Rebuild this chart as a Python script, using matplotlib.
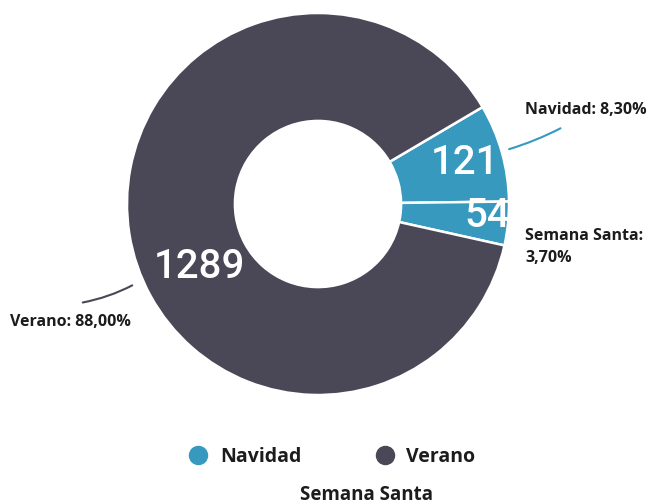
import numpy as np
import matplotlib
matplotlib.use("Agg")
import matplotlib.pyplot as plt
from matplotlib.lines import Line2D

# data
categories = ["Navidad", "Semana Santa", "Verano"]
values = [121, 54, 1289]
percents = [8.30, 3.70, 88.00]

TEAL = "#3899bf"
DARK = "#4a4857"
TEXT = "#1c1c1c"
colors = [TEAL, TEAL, DARK]

plt.rcParams["font.family"] = ["Open Sans", "DejaVu Sans"]

W, H = 655, 504
fig = plt.figure(figsize=(W / 100, H / 100), dpi=100)
ax = fig.add_axes([0, 0, 1, 1])

cx, cy, R = 318, 300, 191
hole = 0.435

wedges, _ = ax.pie(values, colors=colors, startangle=30.5, counterclock=False,
                   center=(cx, cy), radius=R, frame=True,
                   wedgeprops=dict(width=R * (1 - hole), edgecolor="white", linewidth=1.8))
ax.set_xlim(0, W)
ax.set_ylim(0, H)
ax.set_aspect("equal")
ax.axis("off")

# inner value labels (angle in degrees, radius in px)
val_pos = [(15.5, 152), (-4, 170), (208, 134)]
for w, v, (ang, r) in zip(wedges, values, val_pos):
    a = np.deg2rad(ang)
    ax.text(cx + r * np.cos(a), cy + r * np.sin(a), str(v), color="white",
            fontsize=29, ha="center", va="center",
            family=["Roboto", "DejaVu Sans"], fontweight="medium")

# outer labels with leader lines
def fmt(p):
    return f"{p:.2f}".replace(".", ",") + "%"

ax.annotate("", xy=(cx + 196 * np.cos(np.deg2rad(16)), cy + 196 * np.sin(np.deg2rad(16))),
            xytext=(563, 377),
            arrowprops=dict(arrowstyle="-", color=TEAL, lw=1.5,
                            connectionstyle="arc3,rad=-0.05"))
ax.text(525, 394, f"{categories[0]}: {fmt(percents[0])}", color=TEXT,
        fontsize=11.5, fontweight="bold", ha="left", va="center")

ax.text(525, 257, f"{categories[1]}:\n{fmt(percents[1])}", color=TEXT,
        fontsize=11.5, fontweight="bold", ha="left", va="center", linespacing=1.45)

ax.annotate("", xy=(cx + 200 * np.cos(np.deg2rad(203.6)), cy + 200 * np.sin(np.deg2rad(203.6))),
            xytext=(80, 201),
            arrowprops=dict(arrowstyle="-", color=DARK, lw=1.5,
                            connectionstyle="arc3,rad=0.08"))
ax.text(10, 182, f"{categories[2]}: {fmt(percents[2])}", color=TEXT,
        fontsize=11.5, fontweight="bold", ha="left", va="center")

# legend
handles = [Line2D([], [], marker="o", ls="", markersize=13, color=TEAL),
           Line2D([], [], marker="o", ls="", markersize=13, color=DARK)]
fig.legend(handles, [categories[0], categories[2]], ncol=2, frameon=False,
           loc="center", bbox_to_anchor=(332 / W, 1 - 457 / H),
           prop=dict(size=14, weight="bold"), labelcolor=TEXT,
           handletextpad=0.6, columnspacing=3.8, handlelength=1.0)
fig.text(367 / W, 1 - 495 / H, categories[1], color=TEXT, fontsize=13.5,
         fontweight="bold", ha="center", va="center")

fig.savefig("out.png", dpi=100)
